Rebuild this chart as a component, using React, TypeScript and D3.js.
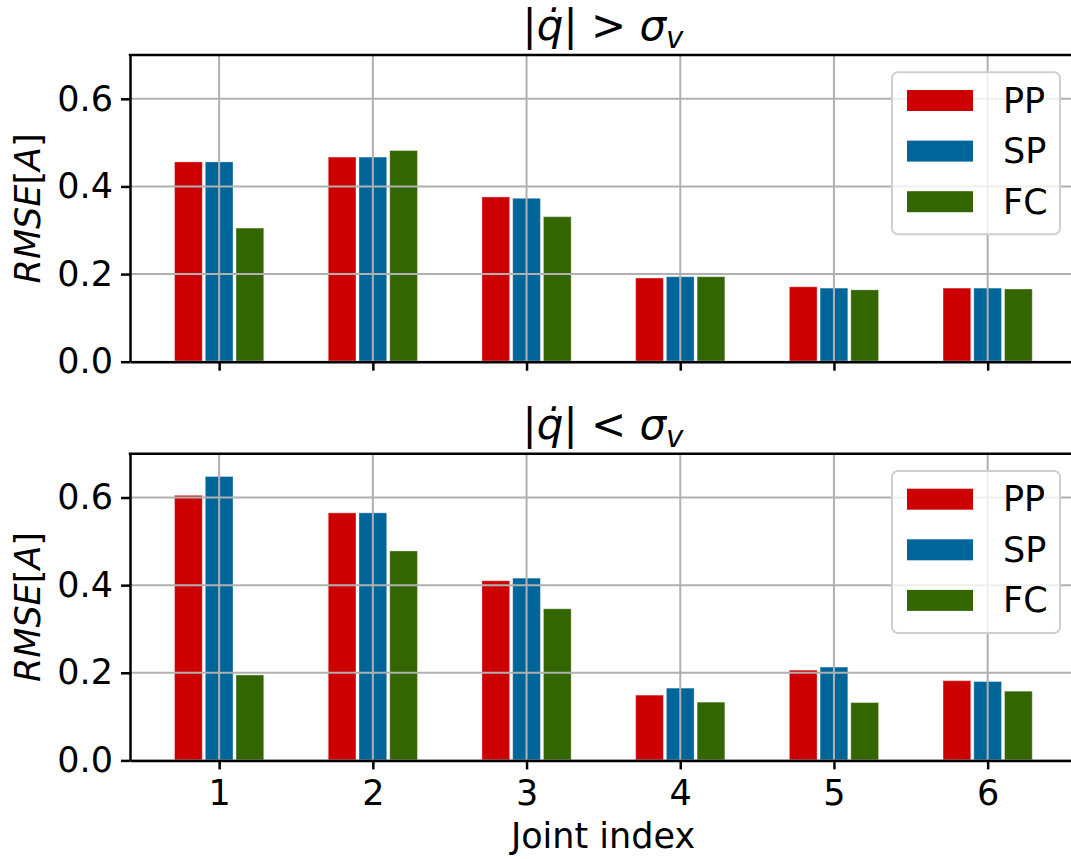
import React, { useEffect, useRef } from 'react';
import * as d3 from 'd3';

const joints = [1, 2, 3, 4, 5, 6];
const seriesNames = ['PP', 'SP', 'FC'];
const seriesColors = ['#cc0000', '#006699', '#336600'];
const yTicks = [0.0, 0.2, 0.4, 0.6];

// |q'| > sigma_v
const ppHigh = [0.456, 0.467, 0.376, 0.191, 0.171, 0.168];
const spHigh = [0.456, 0.467, 0.373, 0.194, 0.168, 0.168];
const fcHigh = [0.305, 0.482, 0.331, 0.194, 0.164, 0.166];

// |q'| < sigma_v
const ppLow = [0.605, 0.565, 0.410, 0.149, 0.206, 0.182];
const spLow = [0.648, 0.565, 0.416, 0.165, 0.213, 0.180];
const fcLow = [0.195, 0.478, 0.346, 0.133, 0.132, 0.158];

const FONT = 'DejaVu Sans, Liberation Sans, sans-serif';
const FS = 35;
const TITLE_FS = 42;

function drawPanel(svg, top, series, relation, showLabels) {
  const left = 130;
  const h = 306.7;
  const x = d3.scaleLinear().domain([0.42, 6.58]).range([left, 1076.8]);
  const y = d3.scaleLinear().domain([0, 0.7]).range([top + h, top]);
  const offsets = [-0.2, 0, 0.2];
  const g = svg.append('g');

  series.forEach((vals, s) => {
    g.selectAll(null)
      .data(joints)
      .enter()
      .append('rect')
        .attr('x', d => x(d + offsets[s] - 0.1) + 1.5)
        .attr('width', x(0.2) - x(0) - 3)
        .attr('y', (d, i) => y(vals[i]))
        .attr('height', (d, i) => y(0) - y(vals[i]))
        .attr('fill', seriesColors[s])
        .attr('stroke', 'rgba(255,255,255,0.35)')
        .attr('stroke-width', 1)
    ;
  });

  // grid above bars, like matplotlib
  g.selectAll(null)
    .data(joints)
    .enter()
    .append('line')
      .attr('x1', d => x(d)).attr('x2', d => x(d))
      .attr('y1', top).attr('y2', top + h)
      .attr('stroke', '#b0b0b0').attr('stroke-width', 2)
  ;
  g.selectAll(null)
    .data(yTicks)
    .enter()
    .append('line')
      .attr('x1', left).attr('x2', 1071)
      .attr('y1', d => y(d)).attr('y2', d => y(d))
      .attr('stroke', '#b0b0b0').attr('stroke-width', 2)
  ;

  const yAxis = d3.axisLeft(y)
    .tickValues(yTicks)
    .tickFormat(d3.format('.1f'))
    .tickSize(9)
    .tickSizeOuter(0)
    .tickPadding(8);
  const xAxis = d3.axisBottom(x)
    .tickValues(joints)
    .tickFormat(d => (showLabels ? String(d) : ''))
    .tickSize(9)
    .tickSizeOuter(0)
    .tickPadding(11);

  const ya = g.append('g').attr('transform', `translate(${left},0)`).call(yAxis);
  const xa = g.append('g').attr('transform', `translate(0,${top + h})`).call(xAxis);
  [ya, xa].forEach(a => {
    a.select('.domain').attr('stroke', '#000').attr('stroke-width', 2.5);
    a.selectAll('.tick line').attr('stroke', '#000').attr('stroke-width', 2.5);
    a.selectAll('.tick text')
      .attr('fill', '#000')
      .style('font-family', FONT)
      .style('font-size', `${FS}px`);
  });
  g.append('line')
    .attr('x1', left - 1.25).attr('x2', 1071)
    .attr('y1', top).attr('y2', top)
    .attr('stroke', '#000').attr('stroke-width', 2.5);

  // title
  const t = g.append('text')
    .attr('x', 603)
    .attr('y', top - 15)
    .attr('text-anchor', 'middle')
    .style('font-family', FONT)
    .style('font-size', `${TITLE_FS}px`);
  t.append('tspan').text('|');
  t.append('tspan').style('font-style', 'italic').text('q\u0307');
  t.append('tspan').text(`| ${relation} `);
  t.append('tspan').style('font-style', 'italic').text('σ');
  t.append('tspan').style('font-style', 'italic').style('font-size', `${TITLE_FS * 0.7}px`)
    .attr('dy', 8).text('v');

  // y label
  const yl = g.append('text')
    .attr('transform', `translate(28,${top + h / 2}) rotate(-90)`)
    .attr('text-anchor', 'middle')
    .attr('dominant-baseline', 'central')
    .style('font-family', FONT)
    .style('font-size', `${FS}px`);
  yl.append('tspan').style('font-style', 'italic').text('RMSE');
  yl.append('tspan').text('[');
  yl.append('tspan').style('font-style', 'italic').text('A');
  yl.append('tspan').text(']');

  // legend
  const lg = g.append('g').attr('transform', `translate(892,${top + 17.3})`);
  lg.append('rect')
    .attr('width', 168).attr('height', 162).attr('rx', 6)
    .attr('fill', '#fff').attr('fill-opacity', 0.8)
    .attr('stroke', '#d0d0d0').attr('stroke-width', 2);
  const items = lg.selectAll(null)
    .data(seriesNames)
    .enter()
    .append('g')
      .attr('transform', (d, i) => `translate(15,${17.7 + i * 50.6})`);
  items.append('rect')
    .attr('width', 66).attr('height', 21)
    .attr('fill', (d, i) => seriesColors[i]);
  items.append('text')
    .attr('x', 96).attr('y', 10.5)
    .attr('dominant-baseline', 'central')
    .style('font-family', FONT)
    .style('font-size', `${FS}px`)
    .text(d => d);
}

export default function App() {
  const ref = useRef(null);

  useEffect(() => {
    const svg = d3.select(ref.current);
    svg.selectAll('*').remove();
    drawPanel(svg, 55, [ppHigh, spHigh, fcHigh], '>', false);
    drawPanel(svg, 453.7, [ppLow, spLow, fcLow], '<', true);
    svg.append('text')
      .attr('x', 603)
      .attr('y', 848)
      .attr('text-anchor', 'middle')
      .style('font-family', FONT)
      .style('font-size', `${FS}px`)
      .text('Joint index');
  }, []);

  return (
    <svg
      ref={ref}
      width={1071}
      height={859}
      style={{ position: 'absolute', left: 0, top: 0, background: '#fff' }}
    />
  );
}
